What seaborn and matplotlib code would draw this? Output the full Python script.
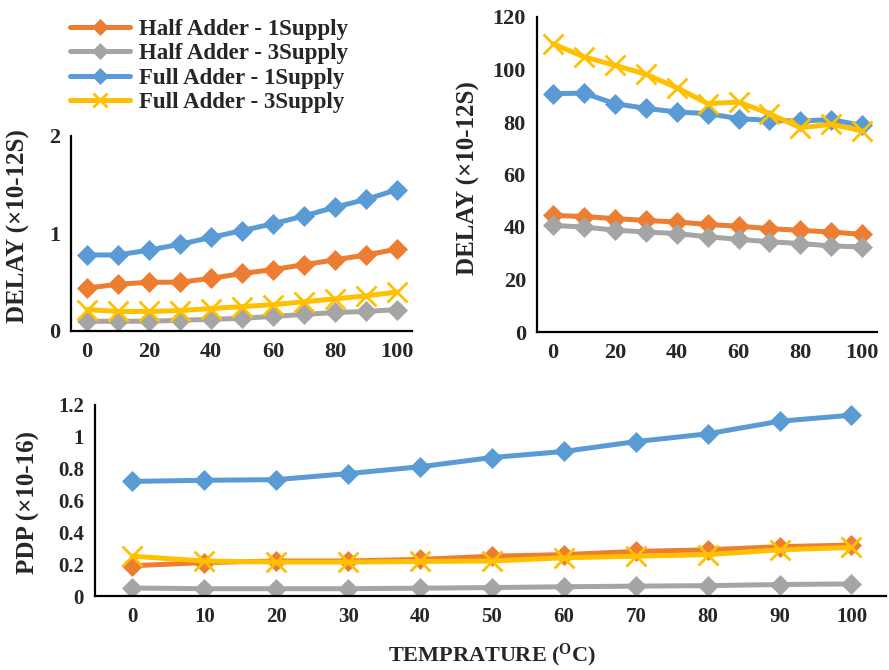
import matplotlib
matplotlib.use("Agg")
import matplotlib.pyplot as plt
from matplotlib.lines import Line2D
import seaborn as sns
import pandas as pd

# Temperatures (°C)
temps = [0, 10, 20, 30, 40, 50, 60, 70, 80, 90, 100]
series_names = ["Half Adder - 1Supply", "Half Adder - 3Supply",
                "Full Adder - 1Supply", "Full Adder - 3Supply"]

# Delay, left panel (x10-12 s)
delay_a_ha1 = [0.44, 0.48, 0.50, 0.50, 0.54, 0.59, 0.63, 0.68, 0.73, 0.78, 0.84]
delay_a_ha3 = [0.10, 0.10, 0.10, 0.11, 0.12, 0.13, 0.15, 0.17, 0.19, 0.20, 0.22]
delay_a_fa1 = [0.78, 0.78, 0.83, 0.89, 0.96, 1.03, 1.10, 1.18, 1.27, 1.35, 1.45]
delay_a_fa3 = [0.22, 0.20, 0.20, 0.21, 0.23, 0.25, 0.27, 0.30, 0.33, 0.36, 0.40]

# Delay, right panel (x10-12 s)
delay_b_ha1 = [44.4, 44.0, 43.2, 42.5, 41.9, 41.0, 40.3, 39.4, 38.7, 38.1, 37.2]
delay_b_ha3 = [40.6, 40.0, 38.8, 38.1, 37.5, 36.3, 35.3, 34.4, 33.7, 32.8, 32.4]
delay_b_fa1 = [90.8, 91.0, 87.0, 85.2, 83.8, 83.2, 81.3, 80.6, 80.4, 80.9, 78.7]
delay_b_fa3 = [109.8, 104.8, 101.6, 98.2, 93.1, 87.0, 87.6, 83.2, 77.8, 79.1, 76.6]

# Power-delay product (x10-16)
pdp_ha1 = [0.19, 0.21, 0.22, 0.22, 0.23, 0.25, 0.26, 0.28, 0.29, 0.31, 0.32]
pdp_ha3 = [0.050, 0.046, 0.046, 0.046, 0.049, 0.053, 0.058, 0.062, 0.065, 0.072, 0.076]
pdp_fa1 = [0.72, 0.727, 0.731, 0.769, 0.812, 0.870, 0.908, 0.970, 1.019, 1.098, 1.136]
pdp_fa3 = [0.25, 0.22, 0.213, 0.213, 0.217, 0.22, 0.24, 0.25, 0.26, 0.29, 0.305]

colors = ["#ED7D31", "#A5A5A5", "#5B9BD5", "#FFC000"]
markers = ["D", "D", "D", "x"]

sns.set_theme(style="white")
plt.rcParams["font.family"] = ["Liberation Serif", "DejaVu Serif"]
plt.rcParams["font.weight"] = "bold"
plt.rcParams["mathtext.fontset"] = "custom"
plt.rcParams["mathtext.rm"] = "Liberation Serif:bold"
plt.rcParams["mathtext.default"] = "rm"

W, H = 889, 670
fig = plt.figure(figsize=(W / 100, H / 100), dpi=100)


def px_axes(left, top, right, bottom):
    return fig.add_axes([left / W, 1 - bottom / H, (right - left) / W, (bottom - top) / H])


def draw(ax, groups, ms_d, ms_x):
    for vals, name, c, m in zip(groups, series_names, colors, markers):
        df = pd.DataFrame({"T": temps, "v": vals})
        kw = dict(marker=m, markersize=ms_x if m == "x" else ms_d,
                  markeredgewidth=2 if m == "x" else 0.5,
                  markeredgecolor=c, markerfacecolor=c)
        sns.lineplot(data=df, x="T", y="v", ax=ax, color=c, linewidth=3.6,
                     legend=False, **kw)
    for s in ["top", "right"]:
        ax.spines[s].set_visible(False)
    for s in ["left", "bottom"]:
        ax.spines[s].set_color("black")
        ax.spines[s].set_linewidth(1.6)
    ax.set_xlim(-5.2, 104.8)
    ax.set_xlabel("")
    ax.set_ylabel("")


def style_ticks(ax, size):
    ax.tick_params(length=0, labelsize=size, pad=8)
    for lab in ax.get_xticklabels() + ax.get_yticklabels():
        lab.set_fontweight("bold")


# Left delay panel
ax1 = px_axes(71, 136, 412, 331)
draw(ax1, [delay_a_ha1, delay_a_ha3, delay_a_fa1, delay_a_fa3], 10, 14)
ax1.set_ylim(0, 2)
ax1.set_yticks([0, 1, 2])
ax1.set_xticks(range(0, 101, 20))
style_ticks(ax1, 16)
fig.text(18 / W, 1 - 226 / H, "DELAY (×10-12S)", rotation=90, ha="center", va="center",
         fontsize=18, fontweight="bold")

# Right delay panel
ax2 = px_axes(537, 17, 877, 332)
draw(ax2, [delay_b_ha1, delay_b_ha3, delay_b_fa1, delay_b_fa3], 10, 14)
ax2.set_ylim(0, 120)
ax2.set_yticks(range(0, 121, 20))
ax2.set_xticks(range(0, 101, 20))
style_ticks(ax2, 16)
fig.text(468 / W, 1 - 178 / H, "DELAY (×10-12S)", rotation=90, ha="center", va="center",
         fontsize=18, fontweight="bold")

# PDP panel
ax3 = px_axes(95, 405, 886, 596)
draw(ax3, [pdp_ha1, pdp_ha3, pdp_fa1, pdp_fa3], 10, 14)
ax3.set_ylim(0, 1.2)
ax3.set_yticks([0, 0.2, 0.4, 0.6, 0.8, 1.0, 1.2])
ax3.set_yticklabels(["0", "0.2", "0.4", "0.6", "0.8", "1", "1.2"])
ax3.set_xticks(temps)
style_ticks(ax3, 15)
fig.text(28 / W, 1 - 502 / H, "PDP (×10-16)", rotation=90, ha="center", va="center",
         fontsize=18, fontweight="bold")
fig.text(492 / W, 1 - 655 / H, r"TEMPRATURE ($^{O}$C)", ha="center", va="center",
         fontsize=16, fontweight="bold")

# Shared legend
handles = [Line2D([], [], color=c, linewidth=3.6, marker=m,
                  markersize=(10 if m == "x" else 8), markeredgewidth=(2 if m == "x" else 0.5),
                  markeredgecolor=c, markerfacecolor=c)
           for c, m in zip(colors, markers)]
fig.legend(handles, series_names, loc="upper left", bbox_to_anchor=(70 / W, 1 - 19 / H),
           frameon=False, handlelength=2.6, handletextpad=0.4,
           labelspacing=0.14, borderaxespad=0, borderpad=0,
           prop={"family": "Liberation Serif", "weight": "bold", "size": 16.5})

fig.savefig("out.png", dpi=100)
